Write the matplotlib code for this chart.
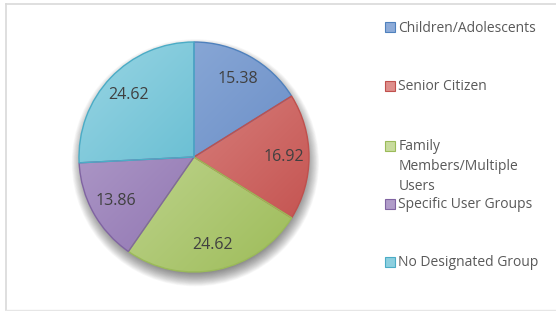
import numpy as np
import matplotlib
matplotlib.use("Agg")
import matplotlib.pyplot as plt
from matplotlib.patches import Rectangle, Circle
from matplotlib.colors import to_rgb

categories = ["Children/Adolescents", "Senior Citizen", "Family\nMembers/Multiple\nUsers",
              "Specific User Groups", "No Designated Group"]
values = [15.38, 16.92, 24.62, 13.86, 24.62]
labels = ["15.38", "16.92", "24.62", "13.86", "24.62"]

light = ["#8dabd8", "#de8e8b", "#c8db9d", "#b09cc9", "#8ccfdf"]
dark = ["#6489c4", "#c65754", "#a3c062", "#8a6dad", "#4cb1c9"]
edge = ["#4f81bd", "#c0504d", "#9bbb59", "#8064a2", "#4bacc6"]

W, H = 556, 311
fig = plt.figure(figsize=(W / 100, H / 100), dpi=100)
fig.patch.set_facecolor("white")

# frame lines
frame = fig.add_axes([0, 0, 1, 1])
frame.set_xlim(0, W)
frame.set_ylim(H, 0)
frame.axis("off")
frame.plot([5.5, W], [3.5, 3.5], color="#d9d9d9", lw=1.2)
frame.plot([5.5, 5.5], [3.5, H - 1], color="#d9d9d9", lw=1.2)
frame.plot([5.5, W], [H - 1.5, H - 1.5], color="#e6e6e6", lw=1.0)

cx, cy, r = 194, 157, 115

ax = fig.add_axes([(cx - r) / W, (H - cy - r) / H, 2 * r / W, 2 * r / H])
ax.axis("off")

# soft blurred shadow below the pie
for rr in np.linspace(0.93, 1.075, 24):
    ax.add_patch(Circle((0.012, -0.05), rr, facecolor="black", alpha=0.026,
                        lw=0, clip_on=False, zorder=0))

wedges, texts = ax.pie(values, startangle=90, counterclock=False, labels=labels,
                       labeldistance=0.78, radius=1.0,
                       wedgeprops=dict(linewidth=1.0),
                       textprops=dict(fontsize=11.5, color="#404040",
                                      family=["Open Sans", "DejaVu Sans"]))
for t in texts:
    t.set_ha("center")
    t.set_va("center")
    t.set_zorder(5)

yy, xx = np.mgrid[1:-1:200j, -1:1:200j]
tgrad = np.clip(((xx - yy) / (2 * np.sqrt(2)) + 0.5), 0, 1)
for w, lc, dc, ec in zip(wedges, light, dark, edge):
    w.set_facecolor("none")
    w.set_edgecolor(ec)
    w.set_zorder(3)
    l = np.array(to_rgb(lc)); d = np.array(to_rgb(dc))
    img = l[None, None, :] * (1 - tgrad[..., None]) + d[None, None, :] * tgrad[..., None]
    im = ax.imshow(img, extent=(-1, 1, -1, 1), zorder=2, interpolation="bilinear")
    im.set_clip_path(w)

ax.set_xlim(-1, 1)
ax.set_ylim(-1, 1)
ax.set_aspect("equal")

# legend
ys = [27, 86, 146, 204, 262]
for cat, y, lc, ec in zip(categories, ys, light, edge):
    frame.add_patch(Rectangle((385, y - 5), 10, 10, facecolor=lc, edgecolor=ec, lw=0.8))
    frame.text(398.5, y - 6.5, cat, fontsize=10, color="#595959", ha="left", va="top",
               family=["Open Sans", "DejaVu Sans"], linespacing=1.45)

fig.savefig("out.png", dpi=100)
